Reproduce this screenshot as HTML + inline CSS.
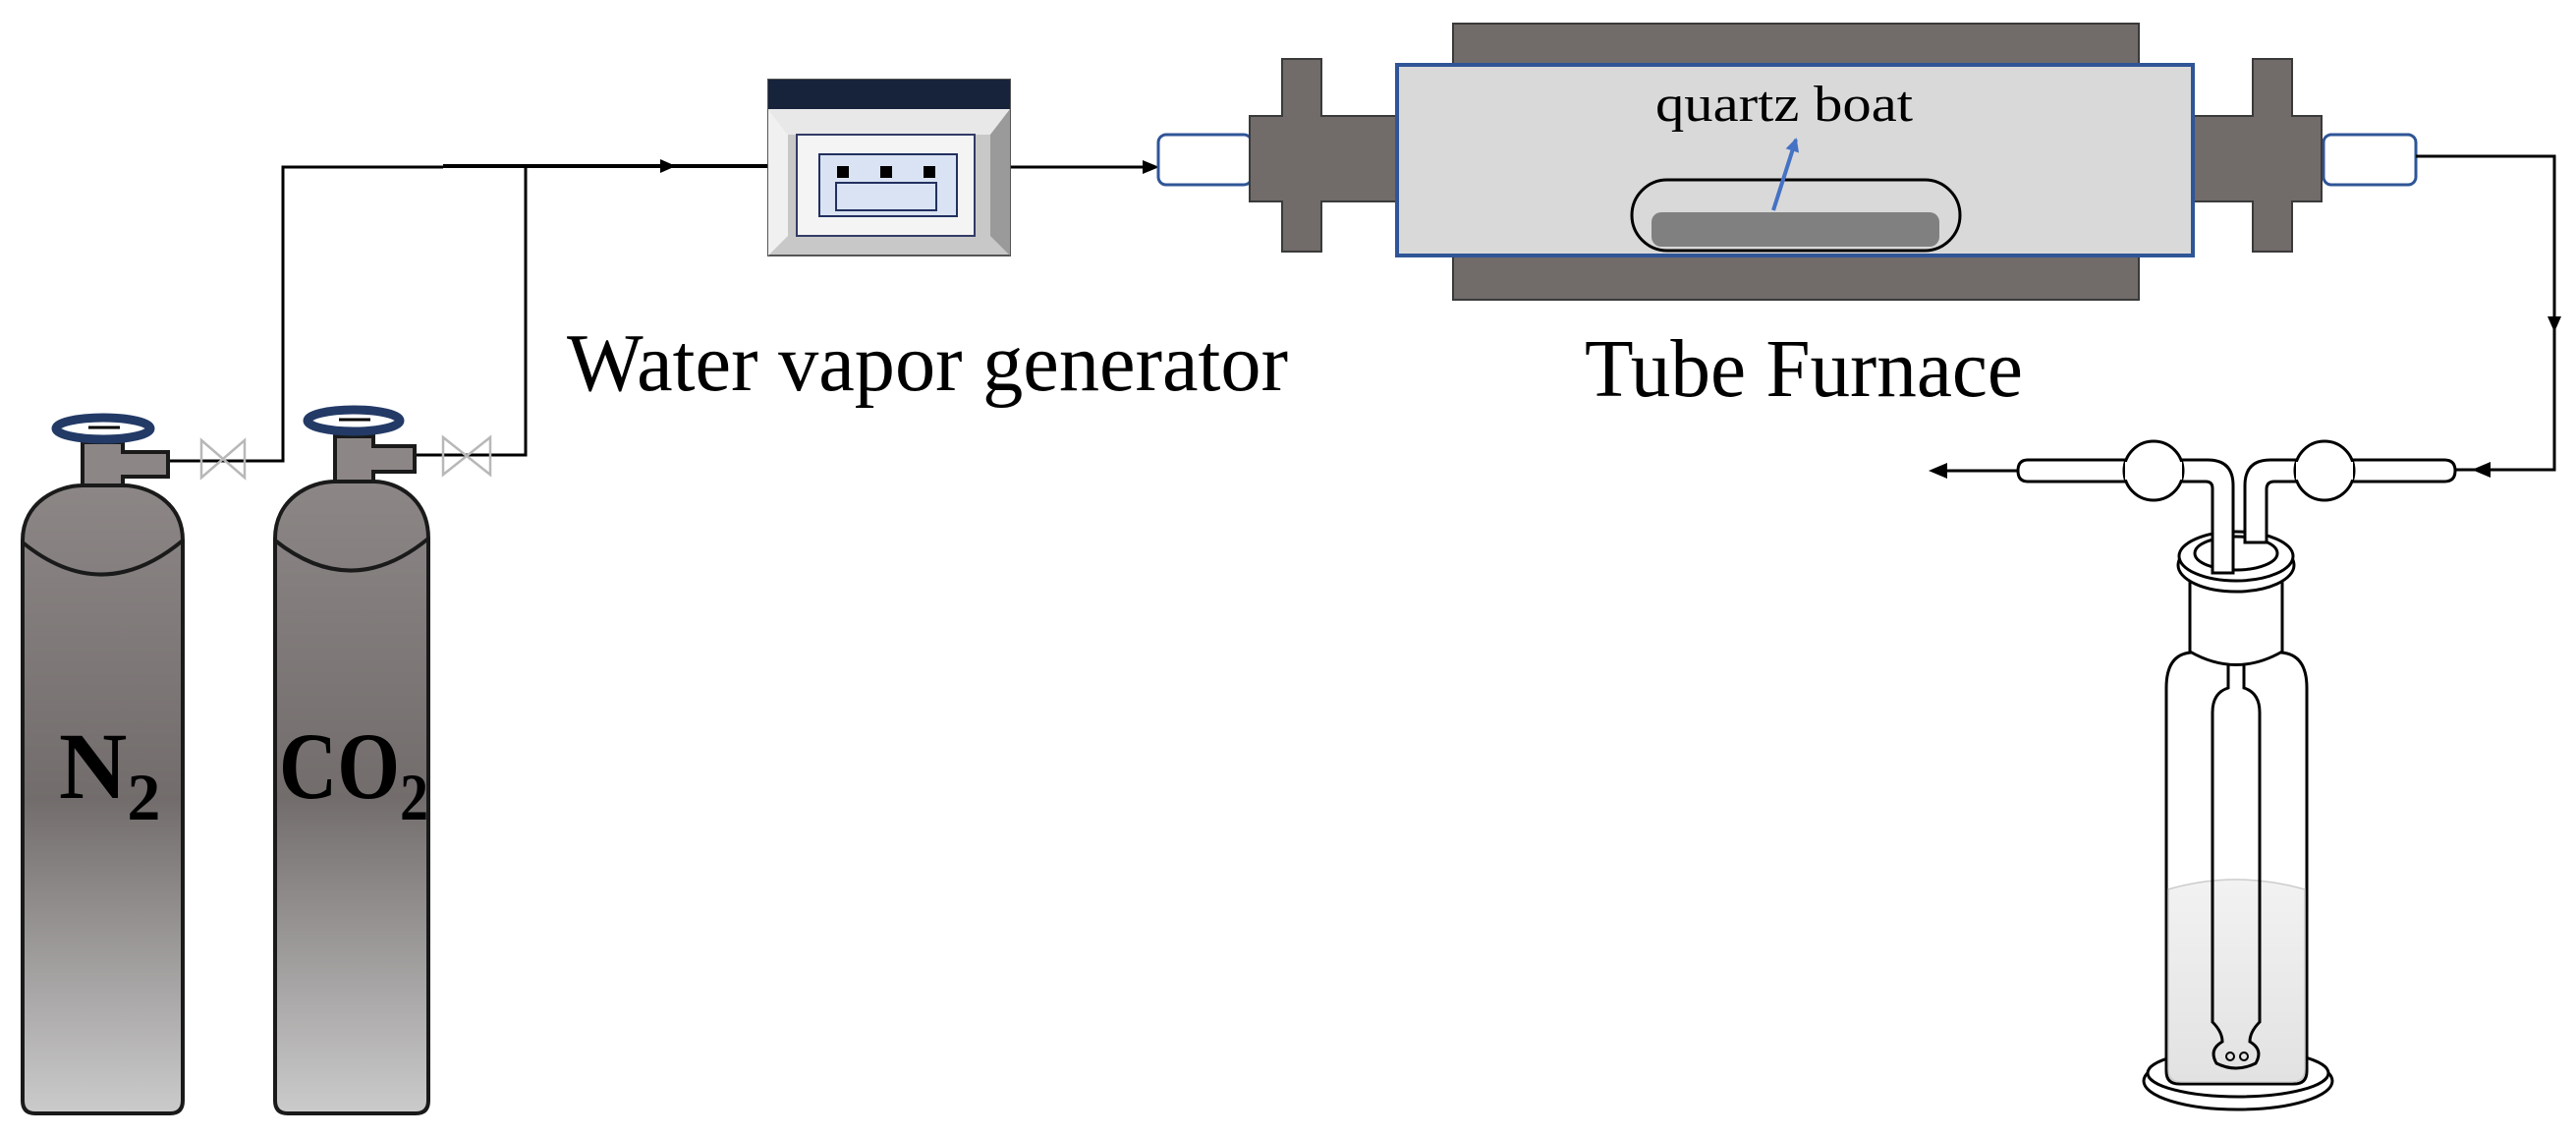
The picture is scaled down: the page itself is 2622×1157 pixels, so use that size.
<!DOCTYPE html>
<html><head><meta charset="utf-8"><style>
html,body{margin:0;padding:0;background:#fff;}
svg{display:block;}
text{font-family:"Liberation Serif",serif;}
</style></head><body>
<svg width="2622" height="1157" viewBox="0 0 2622 1157" xmlns="http://www.w3.org/2000/svg">
<defs>
<linearGradient id="cyl" x1="0" y1="0" x2="0" y2="1">
<stop offset="0" stop-color="#8c8786"/>
<stop offset="0.5" stop-color="#726d6c"/>
<stop offset="1" stop-color="#cbcbcb"/>
</linearGradient>
<linearGradient id="liq" x1="0" y1="0" x2="0" y2="1">
<stop offset="0" stop-color="#f2f2f2"/>
<stop offset="1" stop-color="#e2e2e2"/>
</linearGradient>
<marker id="ab" markerWidth="14" markerHeight="14" refX="12" refY="7" orient="auto" markerUnits="userSpaceOnUse">
<path d="M0,0 L14,7 L0,14 z" fill="#4472c4"/>
</marker>
</defs>

<g stroke="#000" stroke-width="3" fill="none">
<polyline points="171,469 288,469 288,170 451,170"/>
<polyline points="422,463 535,463 535,170"/>
<line x1="451" y1="169" x2="782" y2="169" stroke-width="4"/>
<line x1="1028" y1="170" x2="1176" y2="170"/>
</g>
<path d="M672,162 L688,169 L672,176 z" fill="#000"/>
<path d="M1163,163 L1180,170 L1163,177 z" fill="#000"/>

<g stroke="#b8b8b8" stroke-width="2.5" fill="none">
<path d="M205,448 L249,486 L249,448 L205,486 z"/>
<path d="M451,445 L499,483 L499,445 L451,483 z"/>
</g>

<g stroke="#1a1a1a" stroke-width="4">
<path d="M84,450 L125,450 L125,460 L171,460 L171,485 L125,485 L125,497 L84,497 z" fill="#8c8786"/>
<path d="M23,550 C23,510 60,494 84,494 L125,494 C150,494 186,510 186,550 L186,1120 Q186,1133 173,1133 L36,1133 Q23,1133 23,1120 z" fill="url(#cyl)"/>
<path d="M23,552 Q104,618 186,550" fill="none"/>
</g>
<ellipse cx="105" cy="436" rx="48" ry="11" fill="none" stroke="#233a66" stroke-width="9"/>
<line x1="90" y1="435" x2="122" y2="435" stroke="#000" stroke-width="3"/>
<text x="60" y="812" font-size="96" font-weight="bold" fill="#000">N<tspan font-size="68" dy="22">2</tspan></text>

<g stroke="#1a1a1a" stroke-width="4">
<path d="M341,444 L380,444 L380,454 L422,454 L422,480 L380,480 L380,492 L341,492 z" fill="#8c8786"/>
<path d="M280,548 C280,508 315,490 341,490 L380,490 C405,490 436,508 436,548 L436,1120 Q436,1133 423,1133 L293,1133 Q280,1133 280,1120 z" fill="url(#cyl)"/>
<path d="M280,550 Q358,612 436,548" fill="none"/>
</g>
<ellipse cx="360" cy="428" rx="47" ry="11" fill="none" stroke="#233a66" stroke-width="9"/>
<line x1="345" y1="427" x2="377" y2="427" stroke="#000" stroke-width="3"/>
<text x="284" y="812" font-size="96" font-weight="bold" fill="#000" textLength="152" lengthAdjust="spacingAndGlyphs">CO<tspan font-size="68" dy="22">2</tspan></text>

<rect x="782" y="81" width="246" height="179" fill="#c8c8c8" stroke="#555" stroke-width="2"/>
<path d="M782,111 L1028,111 L1008,137 L802,137 z" fill="#e8e8e8"/>
<path d="M782,111 L802,137 L802,240 L782,260 z" fill="#f0f0f0"/>
<path d="M1028,111 L1008,137 L1008,240 L1028,260 z" fill="#9a9a9a"/>
<rect x="782" y="81" width="246" height="30" fill="#17223b"/>
<rect x="811" y="137" width="181" height="103" fill="#f4f4f4" stroke="#333a66" stroke-width="2"/>
<rect x="834" y="157" width="140" height="63" fill="#dae3f3" stroke="#223060" stroke-width="2"/>
<rect x="851" y="186" width="102" height="28" fill="#dae3f3" stroke="#223060" stroke-width="2"/>
<rect x="852" y="169" width="12" height="12" fill="#000"/>
<rect x="896" y="169" width="12" height="12" fill="#000"/>
<rect x="940" y="169" width="12" height="12" fill="#000"/>
<text x="577" y="397" font-size="84" fill="#000" textLength="734" lengthAdjust="spacingAndGlyphs">Water vapor generator</text>

<rect x="1179" y="137" width="95" height="51" rx="8" fill="#fff" stroke="#2f5597" stroke-width="3"/>
<rect x="2365" y="137" width="94" height="51" rx="8" fill="#fff" stroke="#2f5597" stroke-width="3"/>
<g fill="#716b6a" stroke="#3a3a3a" stroke-width="2">
<path d="M1305,60 L1345,60 L1345,118 L1422,118 L1422,205 L1345,205 L1345,256 L1305,256 L1305,205 L1272,205 L1272,118 L1305,118 z"/>
<path d="M2293,60 L2333,60 L2333,118 L2363,118 L2363,205 L2333,205 L2333,256 L2293,256 L2293,205 L2232,205 L2232,118 L2293,118 z"/>
<rect x="1479" y="24" width="698" height="281"/>
</g>
<rect x="1422" y="66" width="810" height="194" fill="#d9d9d9" stroke="#2f5597" stroke-width="4"/>
<rect x="1661" y="183" width="334" height="72" rx="36" fill="#d9d9d9" stroke="#000" stroke-width="3"/>
<rect x="1681" y="216" width="293" height="35" rx="10" fill="#808080"/>
<line x1="1805" y1="214" x2="1828" y2="142" stroke="#4472c4" stroke-width="4" marker-end="url(#ab)"/>
<text x="1685" y="123" font-size="52" fill="#000" textLength="262" lengthAdjust="spacingAndGlyphs">quartz boat</text>
<text x="1613" y="403" font-size="84" fill="#000" textLength="446" lengthAdjust="spacingAndGlyphs">Tube Furnace</text>

<polyline points="2459,159 2600,159 2600,478 2500,478" fill="none" stroke="#000" stroke-width="3"/>
<path d="M2593,322 L2600,338 L2607,322 z" fill="#000"/>
<path d="M2535,470 L2516,478 L2535,486 z" fill="#000"/>
<line x1="2064" y1="479" x2="1975" y2="479" stroke="#000" stroke-width="3"/>
<path d="M1982,471 L1963,479 L1982,487 z" fill="#000"/>

<g stroke="#000" stroke-width="3" fill="#fff">
<ellipse cx="2278" cy="1100" rx="96" ry="29"/>
<ellipse cx="2278" cy="1092" rx="92" ry="24"/>
<path d="M2205,1090 L2205,700 Q2205,666 2230,664 L2322,664 Q2348,666 2348,700 L2348,1090 Q2348,1103 2335,1103 L2218,1103 Q2205,1103 2205,1090 z"/>
</g>
<path d="M2207,905 Q2276,885 2346,905 L2346,1088 Q2346,1101 2333,1101 L2220,1101 Q2207,1101 2207,1088 z" fill="url(#liq)" stroke="#ccc" stroke-width="1.5"/>
<g stroke="#000" stroke-width="3" fill="none">
<path d="M2268,677 L2268,700 Q2252,705 2252,725 L2252,1040 Q2262,1050 2262,1060 Q2248,1068 2256,1082 Q2276,1092 2296,1082 Q2304,1068 2290,1060 Q2290,1050 2300,1040 L2300,725 Q2300,705 2284,700 L2284,677"/>
<circle cx="2270" cy="1075" r="4" stroke-width="2"/>
<circle cx="2284" cy="1075" r="4" stroke-width="2"/>
</g>
<g stroke="#000" stroke-width="3" fill="#fff">
<path d="M2229,585 L2229,663 Q2276,690 2323,663 L2323,585 z"/>
<ellipse cx="2276" cy="575" rx="59" ry="27"/>
<ellipse cx="2276" cy="566" rx="58" ry="25"/>
<ellipse cx="2276" cy="563" rx="42" ry="17"/>
</g>
<g stroke="#000" stroke-width="3" fill="#fff">
<path d="M2064,468 L2247,468 Q2273,468 2273,494 L2273,583 L2252,583 L2252,497 Q2252,490 2245,490 L2064,490 Q2054,490 2054,479 Q2054,468 2064,468 z"/>
<path d="M2307,552 L2285,552 L2285,494 Q2285,468 2311,468 L2488,468 Q2499,468 2499,479 Q2499,490 2488,490 L2315,490 Q2307,490 2307,498 z"/>
<circle cx="2192" cy="479" r="30"/>
<circle cx="2366" cy="479" r="30"/>
</g>
<g fill="#fff">
<rect x="2163" y="470" width="58" height="18"/>
<rect x="2337" y="470" width="58" height="18"/>
</g>
</svg>
</body></html>
